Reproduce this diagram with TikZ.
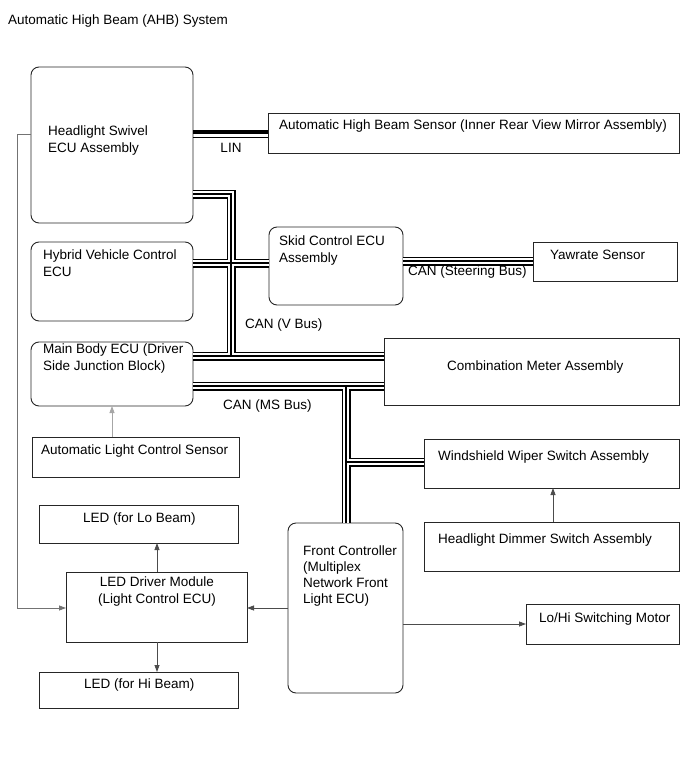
\documentclass[tikz,border=0pt]{standalone}
\usepackage{fontspec}
\setmainfont{Liberation Sans}
\usetikzlibrary{arrows.meta}
\begin{document}
\begin{tikzpicture}[x=1pt,y=-1pt,
  box/.style={draw=black!85, line width=0.9pt, inner sep=0pt, outer sep=0pt, anchor=north west},
  rbox/.style={box, rounded corners=8pt},
  txt/.style={anchor=base west, inner sep=0pt, font=\fontsize{13.5}{16.5}\selectfont, align=left},
  conn/.style={line width=0.8pt, draw=black!70, -{Triangle[length=7pt,width=5pt]}},
  busA/.style={line width=9pt, draw=black},
  busB/.style={line width=6pt, draw=white},
  busC/.style={line width=1.2pt, draw=black}
]
\useasboundingbox (0,0) rectangle (689,757);

% title
\node[txt] (title) at (8,25) {Automatic High Beam (AHB) System};

% boxes
\node[rbox, minimum width=162pt, minimum height=156pt] (hsw) at (31,67) {};
\node[box, minimum width=411pt, minimum height=40pt] (ahbs) at (268,113) {};
\node[rbox, minimum width=162pt, minimum height=79pt] (hyb) at (31,242) {};
\node[rbox, minimum width=134pt, minimum height=78pt] (skid) at (269,227) {};
\node[box, minimum width=144pt, minimum height=39pt] (yaw) at (533,242) {};
\node[rbox, minimum width=162pt, minimum height=64pt] (mb) at (31,342) {};
\node[box, minimum width=295pt, minimum height=67pt] (comb) at (384,338) {};
\node[box, minimum width=207pt, minimum height=40pt] (alcs) at (32,437) {};
\node[box, minimum width=255pt, minimum height=49pt] (wiper) at (424,439) {};
\node[box, minimum width=255pt, minimum height=49pt] (dimmer) at (424,522) {};
\node[box, minimum width=199pt, minimum height=38pt] (ledlo) at (39,505) {};
\node[box, minimum width=181pt, minimum height=70pt] (drv) at (66,572) {};
\node[box, minimum width=199pt, minimum height=36pt] (ledhi) at (39,672) {};
\node[rbox, minimum width=115pt, minimum height=170pt] (fc) at (288,523) {};
\node[box, minimum width=153pt, minimum height=40pt] (motor) at (526,604) {};

% texts (for multi-line nodes the base anchor is the last line's baseline)
\node[txt] (thsw) at (48,152) {Headlight Swivel\\ECU Assembly};
\node[txt] (tahbs) at (279,129) {Automatic High Beam Sensor (Inner Rear View Mirror Assembly)};
\node[txt] (thyb) at (43,276) {Hybrid Vehicle Control\\ECU};
\node[txt] (tskid) at (279,262) {Skid Control ECU\\Assembly};
\node[txt] (tyaw) at (550,259) {Yawrate Sensor};
\node[txt] (tmb) at (43,370) {Main Body ECU (Driver\\Side Junction Block)};
\node[txt] (tcomb) at (447,370) {Combination Meter Assembly};
\node[txt] (talcs) at (41,454) {Automatic Light Control Sensor};
\node[txt] (twiper) at (438,460) {Windshield Wiper Switch Assembly};
\node[txt] (tdimmer) at (438,543) {Headlight Dimmer Switch Assembly};
\node[txt] (tledlo) at (83,522) {LED (for Lo Beam)};
\node[txt, align=center, anchor=base] (tdrv) at (157,603) {LED Driver Module\\(Light Control ECU)};
\node[txt] (tledhi) at (84,688) {LED (for Hi Beam)};
\node[txt, font=\fontsize{13.5}{16}\selectfont] (tfc) at (303,603) {Front Controller\\(Multiplex\\Network Front\\Light ECU)};
\node[txt] (tmotor) at (539,622) {Lo/Hi Switching Motor};

% bus labels
\node[txt, anchor=base] (llin) at (231,153) {LIN};
\node[txt] (lvbus) at (245,328) {CAN (V Bus)};
\node[txt] (lmsbus) at (223,409) {CAN (MS Bus)};
\node[txt] (lsteer) at (408,275) {CAN (Steering Bus)};

% bus junction coordinates
\coordinate (vA) at (231,194);
\coordinate (vB) at (231,356);
\coordinate (h1) at (0,263);
\coordinate (s1) at (0,261);
\coordinate (mA) at (346,386);
\coordinate (mB) at (346,462);
\coordinate (lin1) at (0,132);
\coordinate (lin2) at (0,137.5);

% LIN
\draw[line width=4pt] (lin1 -| hsw.east) -- (lin1 -| ahbs.west);
\draw[line width=1.8pt] (lin2 -| hsw.east) -- (lin2 -| ahbs.west);

% CAN buses in three passes
\foreach \bs in {busA,busB,busC}{
  \draw[\bs] (vA -| hsw.east) -- (vA) -- (vB) -- (vB -| comb.west);
  \draw[\bs] (vB -| mb.east) -- (vB);
  \draw[\bs] (h1 -| hyb.east) -- (h1 -| skid.west);
  \draw[\bs] (s1 -| skid.east) -- (s1 -| yaw.west);
  \draw[\bs] (mA -| mb.east) -- (mA -| comb.west);
  \draw[\bs] (mA) -- (mA |- fc.north);
  \draw[\bs] (mB) -- (mB -| wiper.west);
}

% thin connectors
\coordinate (l1) at (17,134);
\coordinate (l2) at (17,608);
\draw[conn, draw=black!55] (l1 -| hsw.west) -- (l1) -- (l2) -- (l2 -| drv.west);
\coordinate (a1) at (112,0);
\draw[conn, draw=black!35] (alcs.north -| a1) -- (mb.south -| a1);
\coordinate (d1) at (157,0);
\draw[conn] (drv.north -| d1) -- (ledlo.south -| d1);
\draw[conn] (drv.south -| d1) -- (ledhi.north -| d1);
\coordinate (f1) at (0,608);
\draw[conn] (f1 -| fc.west) -- (f1 -| drv.east);
\coordinate (f2) at (0,624);
\draw[conn] (f2 -| fc.east) -- (f2 -| motor.west);
\coordinate (w1) at (553,0);
\draw[conn] (dimmer.north -| w1) -- (wiper.south -| w1);
\end{tikzpicture}
\end{document}
